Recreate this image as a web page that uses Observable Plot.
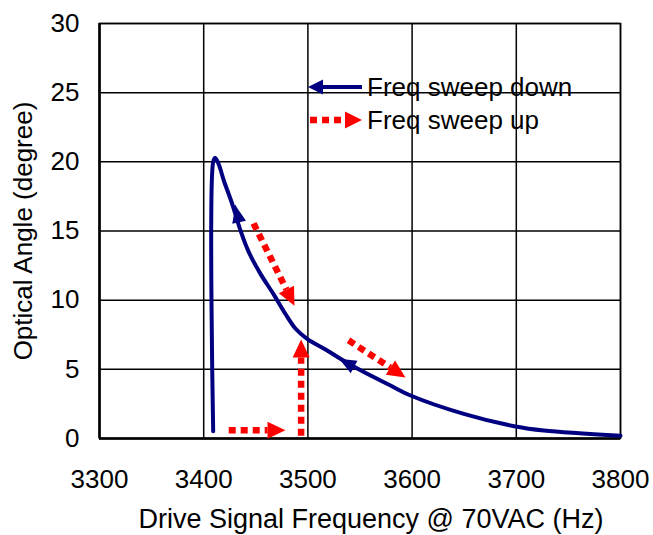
<!DOCTYPE html>
<html>
<head>
<meta charset="utf-8">
<script src="https://cdn.jsdelivr.net/npm/d3@7"></script>
<script src="https://cdn.jsdelivr.net/npm/@observablehq/plot@0.6"></script>
<style>
  body { margin: 0; background: #fff; }
  #wrap { position: relative; width: 653px; height: 535px; font-family: "Liberation Sans", Arial, sans-serif; }
  #legend { position: absolute; left: 0; top: 0; }
</style>
</head>
<body>
<div id="wrap"></div>
<script>
// ---- data ----
const xTicks = [3300, 3400, 3500, 3600, 3700, 3800];
const yTicks = [0, 5, 10, 15, 20, 25, 30];
const xTitle = "Drive Signal Frequency @ 70VAC (Hz)";
const yTitle = "Optical Angle (degree)";
const legendLabels = ["Freq sweep down", "Freq sweep up"];

// sweep-down response curve (frequency Hz, angle deg)
const curveFreq  = [3409.1, 3409.1, 3411.0, 3414.5, 3419.3, 3427.3, 3435.3, 3443.3, 3454.5, 3467.3, 3478.5, 3488.0, 3499.3, 3518.5, 3534.0, 3553.7, 3579.3, 3598.5, 3649.6, 3699.2, 3726.4, 3800.0];
const curveAngle = [0.53,   20.0,   20.3,   19.8,   18.65,  16.97,  15.04,  13.47,  11.9,   10.4,   9.0,    7.95,   7.2,    6.36,   5.64,   4.8,    3.83,   3.11,   1.78,   0.87,   0.58,   0.2];

// arrowheads on the sweep-down curve: base -> tip
const downArrowId    = [1, 1, 2, 2];
const downArrowFreq  = [3437.0, 3430.5, 3546.0, 3530.0];
const downArrowAngle = [14.6,   16.84,  5.1,    5.76];

// sweep-up dotted arrows: start -> base of head
const upArrowId    = [1, 1, 2, 2, 3, 3, 4, 4];
const upArrowFreq  = [3424.0, 3461.2, 3493.5, 3493.5, 3447.8, 3479.4, 3539.0, 3579.2];
const upArrowAngle = [0.6,    0.6,    0.2,    5.86,   15.55,  10.77,  7.1,    5.12];

const BLUE = "#000080";
const RED = "#ff0000";

const curve = curveFreq.map((f, i) => ({f, a: curveAngle[i]}));
const downArrows = downArrowFreq.map((f, i) => ({id: downArrowId[i], f, a: downArrowAngle[i]}));
const upArrows = upArrowFreq.map((f, i) => ({id: upArrowId[i], f, a: upArrowAngle[i]}));

function triMarker(fill, len, wid, tipAtEnd) {
  return () => {
    const m = d3.create("svg:marker")
      .attr("markerUnits", "userSpaceOnUse")
      .attr("viewBox", tipAtEnd ? `${-len} ${-wid/2} ${len} ${wid}` : `0 ${-wid/2} ${len} ${wid}`)
      .attr("refX", 0).attr("refY", 0)
      .attr("markerWidth", len).attr("markerHeight", wid)
      .attr("orient", "auto")
      .attr("overflow", "visible");
    m.append("path")
      .attr("d", tipAtEnd ? `M${-len},${-wid/2}L0,0L${-len},${wid/2}Z` : `M0,${-wid/2}L${len},0L0,${wid/2}Z`)
      .attr("fill", fill).attr("stroke", "none").attr("stroke-dasharray", "none");
    return m.node();
  };
}

const chart = Plot.plot({
  width: 653,
  height: 535,
  marginLeft: 99,
  marginRight: 33,
  marginTop: 23,
  marginBottom: 97,
  style: {fontFamily: '"Liberation Sans", Arial, sans-serif', fontSize: "26px", color: "#000", background: "#fff"},
  x: {domain: [3300, 3800], ticks: xTicks},
  y: {domain: [0, 30], ticks: yTicks},
  marks: [
    Plot.gridX(xTicks, {stroke: "#000", strokeOpacity: 1, strokeWidth: 1.5}),
    Plot.gridY(yTicks, {stroke: "#000", strokeOpacity: 1, strokeWidth: 1.5}),
    Plot.frame({stroke: "#000", strokeWidth: 1.5}),
    Plot.ruleX([3300], {stroke: "#000", strokeWidth: 2.5}),
    Plot.ruleY([0], {stroke: "#000", strokeWidth: 2.5}),
    Plot.axisX({ticks: xTicks, tickSize: 0, tickPadding: 31, fontSize: 26, tickFormat: d => String(d), label: null}),
    Plot.axisY({ticks: yTicks, tickSize: 0, tickPadding: 20, fontSize: 26, label: null}),
    Plot.line(curve, {x: "f", y: "a", stroke: BLUE, strokeWidth: 4, curve: "catmull-rom", strokeLinejoin: "round"}),
    Plot.line(downArrows, {x: "f", y: "a", z: "id", stroke: BLUE, strokeWidth: 1, markerEnd: triMarker(BLUE, 17, 14, true)}),
    Plot.line(upArrows, {x: "f", y: "a", z: "id", stroke: RED, strokeWidth: 6.5, strokeDasharray: "7,5", strokeLinecap: "butt", markerEnd: triMarker(RED, 18, 17, false)}),
    Plot.text([xTitle], {frameAnchor: "bottom", dy: 81, dx: 11, lineAnchor: "middle", textAnchor: "middle", fontSize: 27, fill: "#000"}),
    Plot.text([yTitle], {frameAnchor: "left", dx: -76, rotate: -90, lineAnchor: "middle", textAnchor: "middle", fontSize: 26, fill: "#000"})
  ]
});

const wrap = document.getElementById("wrap");
wrap.appendChild(chart);

// legend overlay
const leg = d3.select(wrap).append("svg").attr("id", "legend").attr("width", 653).attr("height", 535);
const g1 = leg.append("g");
g1.append("line").attr("x1", 321).attr("x2", 362).attr("y1", 87).attr("y2", 87).attr("stroke", BLUE).attr("stroke-width", 4);
g1.append("path").attr("d", "M308,87L323,79.5L323,94.5Z").attr("fill", BLUE);
g1.append("text").attr("x", 367).attr("y", 87).attr("dy", "0.35em").attr("font-size", 26).attr("font-family", '"Liberation Sans", Arial, sans-serif').text(legendLabels[0]);
const g2 = leg.append("g");
g2.append("line").attr("x1", 310).attr("x2", 346).attr("y1", 120).attr("y2", 120).attr("stroke", RED).attr("stroke-width", 6.5).attr("stroke-dasharray", "7,5").attr("stroke-linecap", "butt");
g2.append("path").attr("d", "M345,111.5L362,120L345,128.5Z").attr("fill", RED);
g2.append("text").attr("x", 367).attr("y", 120).attr("dy", "0.35em").attr("font-size", 26).attr("font-family", '"Liberation Sans", Arial, sans-serif').text(legendLabels[1]);
</script>
</body>
</html>
